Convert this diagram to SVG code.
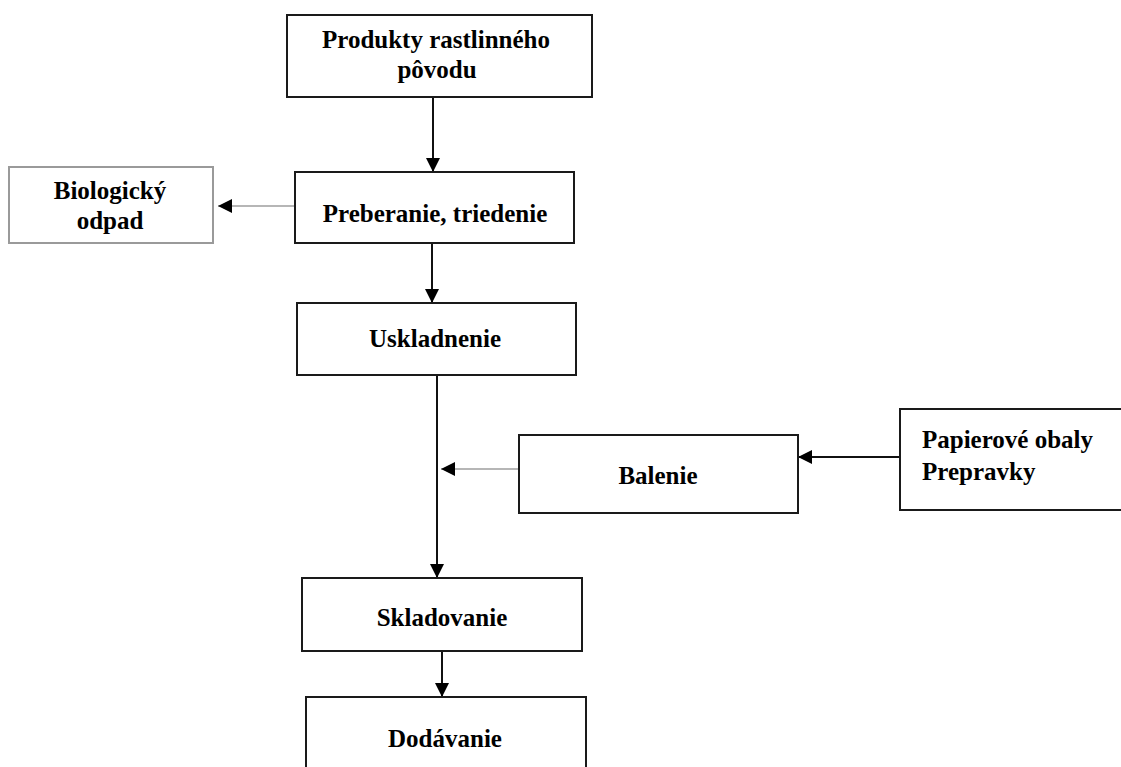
<svg xmlns="http://www.w3.org/2000/svg" width="1121" height="767" viewBox="0 0 1121 767">
  <style>
    .box { fill: #ffffff; stroke: #1a1a1a; stroke-width: 2; }
    .box-soft { fill: #ffffff; stroke: #9a9a9a; stroke-width: 2; }
    .lbl { font-family: "Liberation Serif", "Times New Roman", serif; font-weight: bold; font-size: 25px; fill: #000000; }
    .mid { text-anchor: middle; }
    .flow { stroke: #111111; stroke-width: 2; fill: none; }
    .side { stroke: #6e6e6e; stroke-width: 1.2; fill: none; }
  </style>
  <defs>
    <marker id="head" markerUnits="userSpaceOnUse" markerWidth="14" markerHeight="14" viewBox="0 0 14 14" refX="14" refY="7" orient="auto">
      <path d="M0,0 L14,7 L0,14 Z" fill="#000000"/>
    </marker>
  </defs>

  <rect width="1121" height="767" fill="#ffffff"/>

  <!-- connectors -->
  <g id="connectors">
    <line class="flow" x1="433" y1="97" x2="433" y2="172" marker-end="url(#head)"/>
    <line class="side" x1="295" y1="206" x2="218" y2="206" marker-end="url(#head)"/>
    <line class="flow" x1="432" y1="243" x2="432" y2="303" marker-end="url(#head)"/>
    <line class="flow" x1="437" y1="376" x2="437" y2="578" marker-end="url(#head)"/>
    <line class="side" x1="519" y1="469" x2="441" y2="469" marker-end="url(#head)"/>
    <line class="flow" x1="900" y1="457" x2="798" y2="457" marker-end="url(#head)"/>
    <line class="flow" x1="442" y1="651" x2="442" y2="697" marker-end="url(#head)"/>
  </g>

  <!-- nodes -->
  <g id="produkty">
    <rect class="box" x="287" y="15" width="305" height="82"/>
    <text class="lbl mid" x="436" y="48">Produkty rastlinného</text>
    <text class="lbl mid" x="437" y="78">pôvodu</text>
  </g>

  <g id="preberanie">
    <rect class="box" x="295" y="172" width="279" height="71"/>
    <text class="lbl mid" x="435" y="222">Preberanie, triedenie</text>
  </g>

  <g id="biologicky-odpad">
    <rect class="box-soft" x="9" y="167" width="204" height="76"/>
    <text class="lbl mid" x="110" y="199">Biologický</text>
    <text class="lbl mid" x="110" y="229">odpad</text>
  </g>

  <g id="uskladnenie">
    <rect class="box" x="297" y="303" width="279" height="72"/>
    <text class="lbl mid" x="435" y="347">Uskladnenie</text>
  </g>

  <g id="balenie">
    <rect class="box" x="519" y="435" width="279" height="78"/>
    <text class="lbl mid" x="658" y="484">Balenie</text>
  </g>

  <g id="obaly">
    <rect class="box" x="900" y="409" width="240" height="101"/>
    <text class="lbl" x="922" y="448">Papierové obaly</text>
    <text class="lbl" x="922" y="480">Prepravky</text>
  </g>

  <g id="skladovanie">
    <rect class="box" x="302" y="578" width="280" height="73"/>
    <text class="lbl mid" x="442" y="626">Skladovanie</text>
  </g>

  <g id="dodavanie">
    <rect class="box" x="306" y="697" width="280" height="90"/>
    <text class="lbl mid" x="445" y="747">Dodávanie</text>
  </g>
</svg>
